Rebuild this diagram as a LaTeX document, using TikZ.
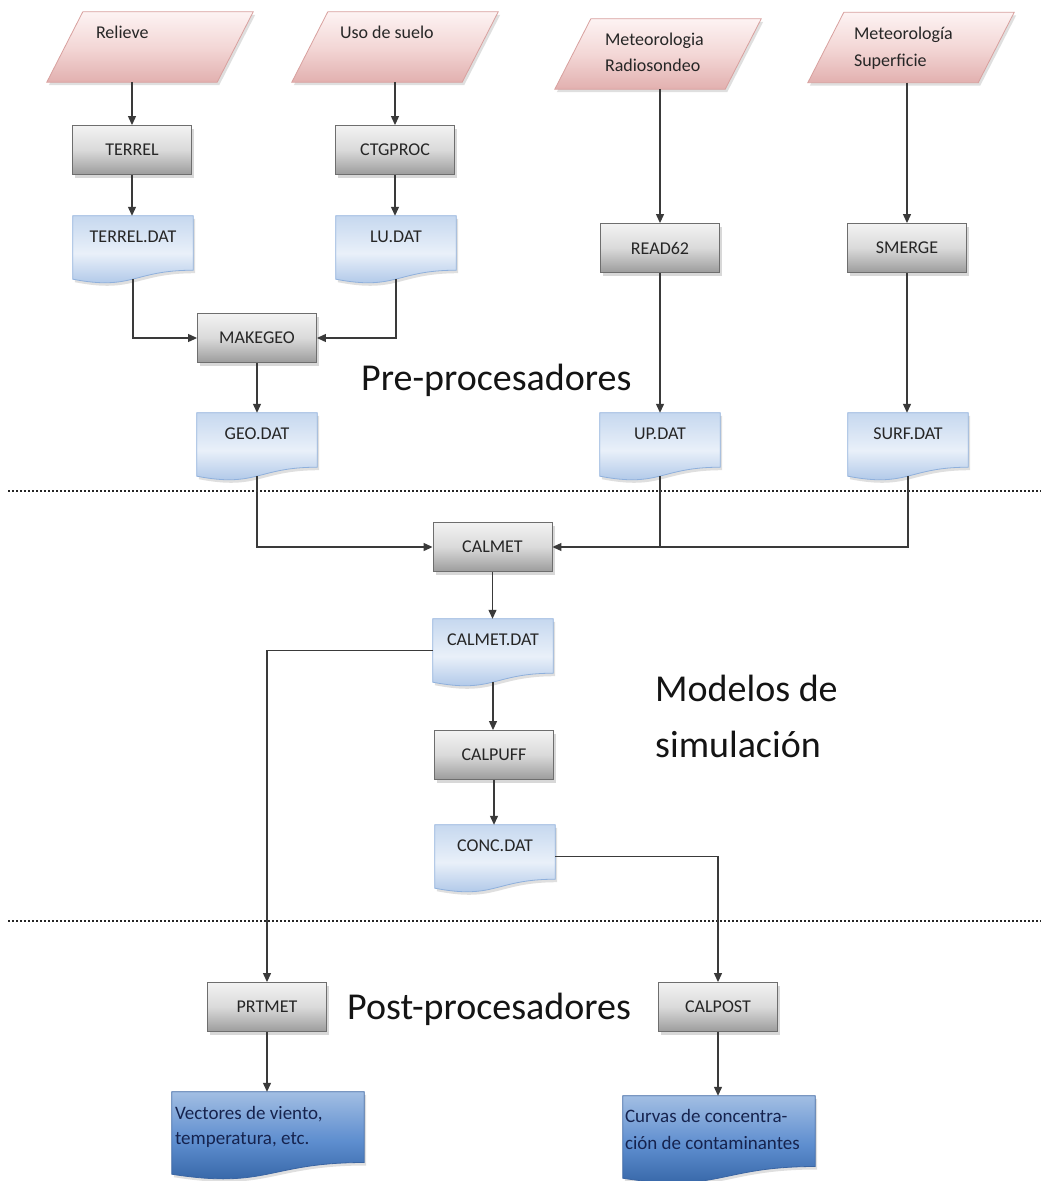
\documentclass[tikz,border=0pt]{standalone}
\usepackage{fontspec}
\setmainfont{Carlito}
\usetikzlibrary{arrows.meta,shadows,calc}
\pgfdeclarelayer{bg}
\pgfsetlayers{bg,main}
\definecolor{boxtop}{HTML}{F2F2F2}
\definecolor{boxmid}{HTML}{DADADA}
\definecolor{boxbot}{HTML}{9C9C9C}
\definecolor{boxborder}{HTML}{6E6E6E}
\definecolor{doctop}{HTML}{C6D8EF}
\definecolor{docmid}{HTML}{E9F0F9}
\definecolor{docbot}{HTML}{A3BFE5}
\definecolor{docborder}{HTML}{8FB0DC}
\definecolor{bdoctop}{HTML}{A2BEE3}
\definecolor{bdocmid}{HTML}{5E8ECF}
\definecolor{bdocbot}{HTML}{2E5E9F}
\definecolor{bdocborder}{HTML}{3A65A3}
\definecolor{paratop}{HTML}{FDF3F3}
\definecolor{paramid}{HTML}{F3D7D6}
\definecolor{parabot}{HTML}{E2B0AF}
\definecolor{paraborder}{HTML}{D8A09E}
\definecolor{labcol}{HTML}{262626}
\definecolor{navytext}{HTML}{16234E}
\definecolor{linecol}{HTML}{3A3A3A}
\newcommand\lab{\fontsize{18}{22}\selectfont}
\newcommand\mkdoc[5]{%
\begin{pgfonlayer}{bg}
\path[draw=#5, line width=0.8pt, top color=#2, bottom color=#4, middle color=#3,
  drop shadow={shadow xshift=2pt, shadow yshift=-3pt, opacity=0.25}]
  let \p1=(#1.north west), \p2=(#1.south east), \n1={\y2-\y1} in
  (\x1,\y1) -- (\x2,\y1) -- (\x2,{\y1+0.858*\n1})
  .. controls ({(\x1+\x2)/2},{\y1+0.858*\n1}) and ({(\x1+\x2)/2},{\y1+1.184*\n1}) .. (\x1,\y2) -- cycle;
\end{pgfonlayer}}
\newcommand\mkpara[1]{%
\begin{pgfonlayer}{bg}
\path[draw=paraborder, line width=0.8pt, top color=paratop, bottom color=parabot, middle color=paramid,
  drop shadow={shadow xshift=2pt, shadow yshift=-3pt, opacity=0.25}]
  ([xshift=18pt]#1.north west) -- ([xshift=18pt]#1.north east) -- ([xshift=-18pt]#1.south east) -- ([xshift=-18pt]#1.south west) -- cycle;
\end{pgfonlayer}}
\tikzset{
  proc/.style={rectangle, minimum width=119pt, minimum height=49pt, inner sep=0pt,
    draw=boxborder, line width=0.9pt, top color=boxtop, bottom color=boxbot, middle color=boxmid,
    drop shadow={shadow xshift=2.5pt, shadow yshift=-3pt, opacity=0.3}, font=\lab, text=labcol},
  docnode/.style={rectangle, minimum width=120pt, minimum height=63pt, inner sep=0pt,
    text height=26pt, text depth=37pt, font=\lab, text=labcol},
  bigdoc/.style={rectangle, minimum width=192pt, minimum height=82pt, inner sep=0pt},
  para/.style={rectangle, minimum width=170pt, minimum height=70pt, inner sep=0pt},
  ptext/.style={anchor=base west, inner sep=0pt, font=\lab, text=labcol},
  btext/.style={anchor=base west, inner sep=0pt, font=\fontsize{19}{24}\selectfont, text=navytext},
  sec/.style={anchor=base west, inner sep=0pt, font=\fontsize{38}{46}\selectfont, text=black!92},
  ln/.style={draw=linecol, line width=1.2pt},
  arr/.style={ln, -{Triangle[length=9pt,width=8pt]}},
  sepline/.style={draw=black!85, line width=2.2pt, dash pattern=on 2.2pt off 1.8pt}
}
\begin{document}
\begin{tikzpicture}[x=1pt,y=-1pt]
\useasboundingbox (0,0) rectangle (1041,1181);
\begin{pgfonlayer}{bg}
\fill[white] (0,0) rectangle (1041,1181);
\end{pgfonlayer}

% inputs
\node[para] (relieve) at (150,47) {};
\node[para] (uso) at (395,47) {};
\node[para] (radio) at (658,54) {};
\node[para] (superf) at (911,47.5) {};
\mkpara{relieve}\mkpara{uso}\mkpara{radio}\mkpara{superf}
\node[ptext] (relieveT) at ($(relieve.north west)+(31,27)$) {Relieve};
\node[ptext] (usoT) at ($(uso.north west)+(30,27)$) {Uso de suelo};
\node[ptext] (radioT1) at ($(radio.north west)+(32,27)$) {Meteorologia};
\node[ptext] (radioT2) at ($(radio.north west)+(32,53)$) {Radiosondeo};
\node[ptext] (superfT1) at ($(superf.north west)+(28,27)$) {Meteorología};
\node[ptext] (superfT2) at ($(superf.north west)+(28,54)$) {Superficie};

% processes
\node[proc] (terrel) at (132,150) {TERREL};
\node[proc] (ctgproc) at (395,150) {CTGPROC};
\node[proc] (read62) at (660,248) {READ62};
\node[proc] (smerge) at (907,248) {SMERGE};
\node[proc] (makegeo) at (257,338) {MAKEGEO};
\node[proc] (calmet) at (492.5,547) {CALMET};
\node[proc] (calpuff) at (494,755) {CALPUFF};
\node[proc] (prtmet) at (267,1007) {PRTMET};
\node[proc] (calpost) at (718,1007) {CALPOST};

% data files
\node[docnode] (terreldat) at (133,247.5) {TERREL.DAT};
\node[docnode] (ludat) at (396,247.5) {LU.DAT};
\node[docnode] (geodat) at (257,444.5) {GEO.DAT};
\node[docnode] (updat) at (660,444.5) {UP.DAT};
\node[docnode] (surfdat) at (908,444.5) {SURF.DAT};
\node[docnode] (calmetdat) at (493,650.5) {CALMET.DAT};
\node[docnode] (concdat) at (495,856.5) {CONC.DAT};
\foreach \d in {terreldat,ludat,geodat,updat,surfdat,calmetdat,concdat}{\mkdoc{\d}{doctop}{docmid}{docbot}{docborder}}

% outputs
\node[bigdoc] (vect) at (268,1133) {};
\node[bigdoc] (curvas) at (719,1137) {};
\mkdoc{vect}{bdoctop}{bdocmid}{bdocbot}{bdocborder}
\mkdoc{curvas}{bdoctop}{bdocmid}{bdocbot}{bdocborder}
\node[btext] (vectT1) at ($(vect.north west)+(3,28)$) {Vectores de viento,};
\node[btext] (vectT2) at ($(vect.north west)+(3,53)$) {temperatura, etc.};
\node[btext] (curvasT1) at ($(curvas.north west)+(2,27)$) {Curvas de concentra-};
\node[btext] (curvasT2) at ($(curvas.north west)+(2,54)$) {ción de contaminantes};

% section labels
\node[sec] (pre) at (361,390) {Pre-procesadores};
\node[sec] (mod1) at (655,701) {Modelos de};
\node[sec] (mod2) at (655,757) {simulación};
\node[sec] (post) at (347,1019) {Post-procesadores};

% separators
\draw[sepline] (8,491) -- (1041,491);
\draw[sepline] (8,921) -- (1041,921);

% connectors
\draw[arr] (terrel.north |- relieve.south) -- (terrel.north);
\draw[arr] (ctgproc.north |- uso.south) -- (ctgproc.north);
\draw[arr] (read62.north |- radio.south) -- (read62.north);
\draw[arr] (smerge.north |- superf.south) -- (smerge.north);
\draw[arr] (terrel.south) -- (terrel.south |- terreldat.north);
\draw[arr] (ctgproc.south) -- (ctgproc.south |- ludat.north);
\draw[arr] (read62.south) -- (read62.south |- updat.north);
\draw[arr] (smerge.south) -- (smerge.south |- surfdat.north);
\draw[arr] (terreldat.south) |- (makegeo.west);
\draw[arr] (ludat.south) |- (makegeo.east);
\draw[arr] (makegeo.south) -- (makegeo.south |- geodat.north);
\draw[arr] (geodat.south) |- (calmet.west);
\draw[ln] (updat.south) -- (updat.south |- calmet.east);
\draw[arr] (surfdat.south) |- (calmet.east);
\draw[arr] (calmet.south) -- (calmet.south |- calmetdat.north);
\draw[arr] (calmetdat.south) -- (calmetdat.south |- calpuff.north);
\draw[arr] (calpuff.south) -- (calpuff.south |- concdat.north);
\draw[arr] (calmetdat.west) -| (prtmet.north);
\draw[arr] (concdat.east) -| (calpost.north);
\draw[arr] (prtmet.south) -- (prtmet.south |- vect.north);
\draw[arr] (calpost.south) -- (calpost.south |- curvas.north);
\end{tikzpicture}
\end{document}
